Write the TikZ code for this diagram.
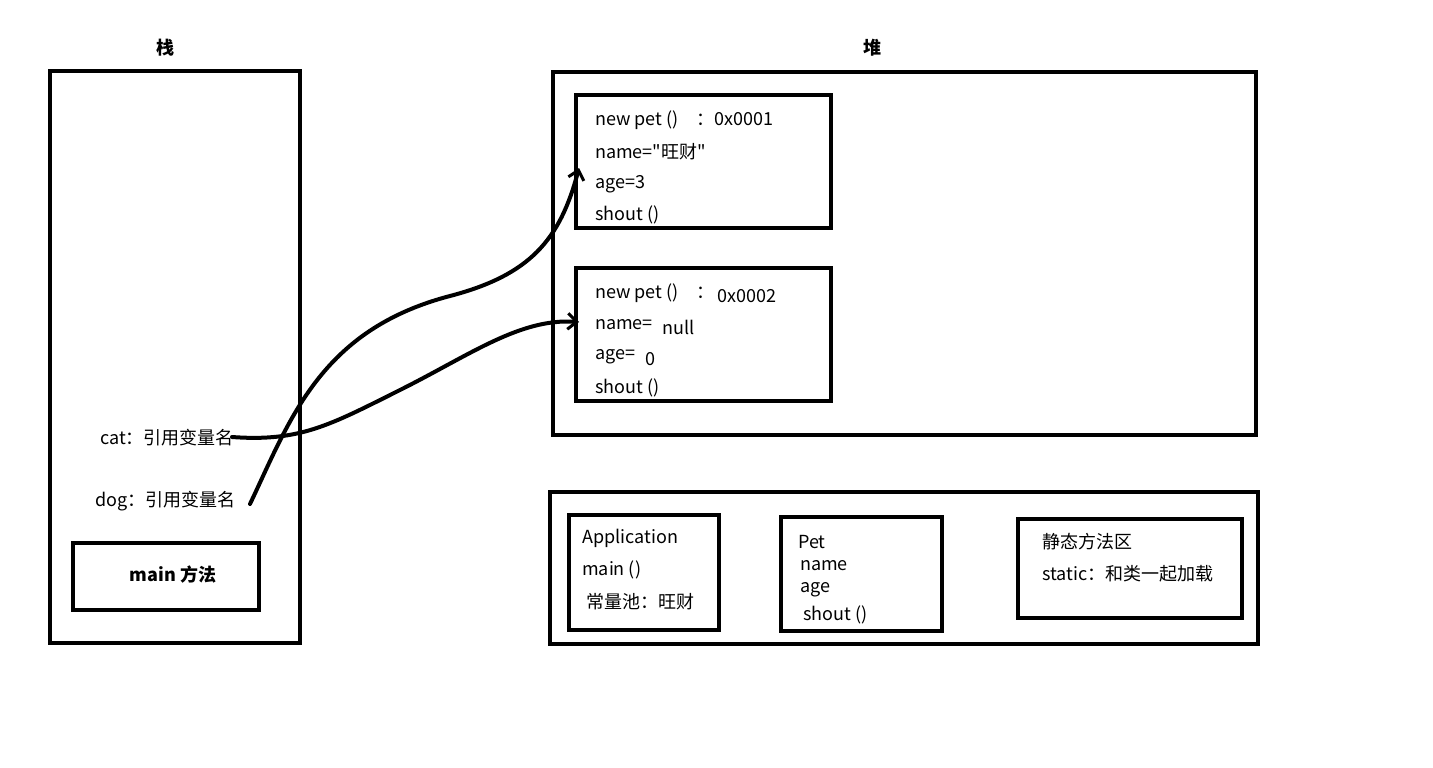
\documentclass[tikz,border=0pt]{standalone}
\usepackage{fontspec}
\setmainfont{Noto Sans CJK SC}[Ligatures=TeXOff]
\usetikzlibrary{arrows.meta}
\begin{document}
\begin{tikzpicture}[x=1pt,y=-1pt,
  box/.style={draw,line width=4pt},
  txt/.style={anchor=west,inner sep=0pt,font=\fontsize{18}{22}\selectfont},
  ttl/.style={inner sep=0pt,font=\fontsize{18}{22}\selectfont\bfseries},
  ref/.style={line width=4pt,line cap=round,-{Straight Barb[length=9pt,width=16pt,line width=3pt]}}]
\useasboundingbox (0,0) rectangle (1433,768);
% stack
\node[ttl] (t1) at (165,48) {栈};
\draw[box] (50,71) rectangle (300,643);
\node[txt] (cat) at (100,438) {cat：引用变量名};
\node[txt] (dog) at (95,501) {dog：引用变量名};
\draw[box] (73,543) rectangle (259,610);
\node[ttl] (main) at (173,575) {main 方法};
% heap
\node[ttl] (t2) at (872,48) {堆};
\draw[box] (553,72) rectangle (1256,435);
\draw[box] (576,95) rectangle (831,228);
\node[txt] (a1) at (595,120) {new pet ()\quad：0x0001};
\node[txt] (a2) at (595,152) {name="旺财"};
\node[txt] (a3) at (595,184) {age=3};
\node[txt] (a4) at (595,215) {shout ()};
\draw[box] (576,268) rectangle (831,401);
\node[txt] (b1) at (595,293) {new pet ()\quad：};
\node[txt] (b1x) at (717,296) {0x0002};
\node[txt] (b2) at (595,325) {name=};
\node[txt] (b2x) at (662,327) {null};
\node[txt] (b3) at (595,357) {age=};
\node[txt] (b3x) at (645,359) {0};
\node[txt] (b4) at (595,388) {shout ()};
% method area
\draw[box] (550,492) rectangle (1258,644);
\draw[box] (569,515) rectangle (719,630);
\node[txt] (c1) at (582,538) {Application};
\node[txt] (c2) at (582,570) {main ()};
\node[txt] (c3) at (586,602) {常量池：旺财};
\draw[box] (781,517) rectangle (942,631);
\node[txt] (d1) at (798,542) {Pet};
\node[txt] (d2) at (800,566) {name};
\node[txt] (d3) at (800,590) {age};
\node[txt] (d4) at (803,615) {shout ()};
\draw[box] (1018,519) rectangle (1242,618);
\node[txt] (e1) at (1042,542) {静态方法区};
\node[txt] (e2) at (1042,574) {static：和类一起加载};
% references
\coordinate (cs) at (232,437);
\coordinate (ds) at (250,504);
\coordinate (ce) at (579,322);
\coordinate (de) at (579,168);
\draw[ref] (cs) .. controls (300,442) and (330,425) .. (400,390)
  .. controls (470,355) and (520,318) .. (ce);
\draw[ref] (ds) .. controls (290,420) and (320,330) .. (450,296)
  .. controls (530,275) and (560,240) .. (de);
\end{tikzpicture}
\end{document}
